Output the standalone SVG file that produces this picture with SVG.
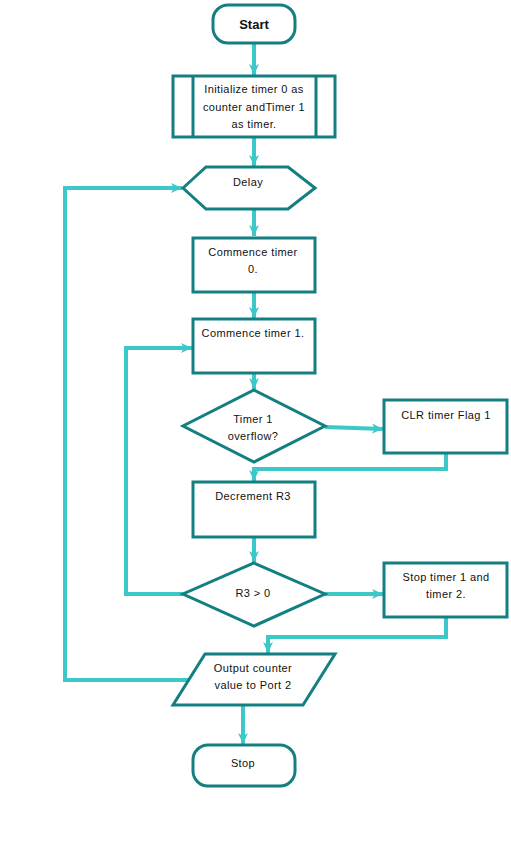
<svg xmlns="http://www.w3.org/2000/svg" width="511" height="846" viewBox="0 0 511 846">
<defs>
<marker id="arr" markerUnits="userSpaceOnUse" markerWidth="12" markerHeight="12" viewBox="0 0 12 12" refX="11" refY="6" orient="auto">
<path d="M0,1 L11,6 L0,11 L3,6 Z" fill="#3cc8c8"/>
</marker>
<style>
.n{fill:#fff;stroke:#137f80;stroke-width:3;stroke-linejoin:miter}
.c{fill:none;stroke:#3cc8c8;stroke-width:4;stroke-linejoin:miter}
.t{font-family:"Liberation Sans",Arial,sans-serif;font-size:11px;letter-spacing:0.4px;fill:#111;text-anchor:middle;dominant-baseline:central}
.b{font-size:13px;font-weight:bold;letter-spacing:0}
</style>
</defs>
<rect width="511" height="846" fill="#fff"/>
<g id="connectors">
<path class="c" d="M254,43 V75" marker-end="url(#arr)"/>
<path class="c" d="M254,137 V166" marker-end="url(#arr)"/>
<path class="c" d="M254,209 V236" marker-end="url(#arr)"/>
<path class="c" d="M254,292 V318" marker-end="url(#arr)"/>
<path class="c" d="M254,373 V389" marker-end="url(#arr)"/>
<path class="c" d="M325,427 L383,429" marker-end="url(#arr)"/>
<path class="c" d="M446,453 V469 H254 V481" marker-end="url(#arr)"/>
<path class="c" d="M254,537 V562" marker-end="url(#arr)"/>
<path class="c" d="M183,594 H126 V348 H192" marker-end="url(#arr)"/>
<path class="c" d="M325,594 H383" marker-end="url(#arr)"/>
<path class="c" d="M446,617 V637 H268 V653" marker-end="url(#arr)"/>
<path class="c" d="M188,680 H65 V188 H182" marker-end="url(#arr)"/>
<path class="c" d="M243,705 V744" marker-end="url(#arr)"/>
</g>
<g id="start">
<rect class="n" x="213" y="5" width="82" height="38" rx="15"/>
<text class="t b" x="254" y="24">Start</text>
</g>
<g id="init">
<rect class="n" x="173" y="76" width="162" height="61"/>
<path class="n" d="M193,76 V137 M316,76 V137"/>
<text class="t" x="254" y="89">Initialize timer 0 as</text>
<text class="t" x="254" y="107">counter andTimer 1</text>
<text class="t" x="254" y="124">as timer.</text>
</g>
<g id="delay">
<polygon class="n" points="183,188 206,167 288,167 315,188 288,209 206,209"/>
<text class="t" x="248" y="182">Delay</text>
</g>
<g id="commence0">
<rect class="n" x="193" y="238" width="122" height="54"/>
<text class="t" x="253" y="252">Commence timer</text>
<text class="t" x="253" y="269">0.</text>
</g>
<g id="commence1">
<rect class="n" x="193" y="319" width="122" height="54"/>
<text class="t" x="253" y="333">Commence timer 1.</text>
</g>
<g id="overflow">
<polygon class="n" points="254,390 325,426 254,462 183,426"/>
<text class="t" x="253" y="419">Timer 1</text>
<text class="t" x="253" y="436">overflow?</text>
</g>
<g id="clr">
<rect class="n" x="384" y="400" width="123" height="53"/>
<text class="t" x="446" y="415">CLR timer Flag 1</text>
</g>
<g id="decrement">
<rect class="n" x="193" y="482" width="122" height="55"/>
<text class="t" x="253" y="496">Decrement R3</text>
</g>
<g id="r3">
<polygon class="n" points="254,563 325,594 254,626 183,594"/>
<text class="t" x="253" y="593">R3 &gt; 0</text>
</g>
<g id="stoptimer">
<rect class="n" x="384" y="563" width="123" height="54"/>
<text class="t" x="446" y="577">Stop timer 1 and</text>
<text class="t" x="446" y="594">timer 2.</text>
</g>
<g id="output">
<polygon class="n" points="205,654 335,654 303,705 173,705"/>
<text class="t" x="253" y="668">Output counter</text>
<text class="t" x="253" y="685">value to Port 2</text>
</g>
<g id="stop">
<rect class="n" x="193" y="745" width="102" height="41" rx="15"/>
<text class="t" x="243" y="763">Stop</text>
</g>
</svg>
